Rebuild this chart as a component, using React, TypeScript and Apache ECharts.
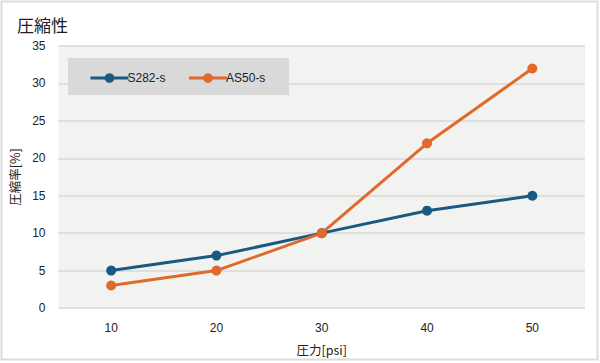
import React, { useEffect, useRef } from "react";
import * as echarts from "echarts";

const categories = ["10", "20", "30", "40", "50"];
const s282 = [5, 7, 10, 13, 15];
const as50 = [3, 5, 10, 22, 32];
const seriesNames = ["S282-s", "AS50-s"];

export default function App() {
  const ref = useRef<HTMLDivElement>(null);
  useEffect(() => {
    document.body.style.margin = "0";
    const chart = echarts.init(ref.current!, null, { renderer: "svg" });
    const font = "'Noto Sans CJK JP', 'Liberation Sans', sans-serif";
    const latin = "'Liberation Sans', Arial, sans-serif";
    chart.setOption({
      animation: false,
      backgroundColor: "#ffffff",
      textStyle: { fontFamily: font },
      title: {
        text: "圧縮性",
        left: 12,
        top: 11,
        textStyle: { fontSize: 17, fontWeight: "normal", color: "#222", fontFamily: font },
      },
      graphic: [
        {
          type: "rect",
          shape: { x: 1.5, y: 1.5, width: 596, height: 358 },
          style: { fill: "none", stroke: "#dcdcdc", lineWidth: 2 },
          silent: true,
        },
        {
          type: "rect",
          shape: { x: 68, y: 58, width: 221, height: 37 },
          style: { fill: "#d9d9d9" },
          z: 5,
          silent: true,
        },
      ],
      legend: {
        left: 84,
        top: 67,
        itemGap: 22,
        itemWidth: 38,
        itemHeight: 12,
        z: 10,
        lineStyle: { width: 3 },
        textStyle: { fontSize: 12, color: "#222", fontFamily: latin, padding: [0, 0, 0, -6] },
        data: seriesNames,
      },
      grid: { left: 55, right: 15, top: 46, bottom: 55, backgroundColor: "#f2f2f0", show: true, borderWidth: 0 },
      xAxis: {
        type: "category",
        data: categories,
        boundaryGap: true,
        name: "圧力[psi]",
        nameLocation: "middle",
        nameGap: 35,
        nameTextStyle: { fontSize: 12.5, color: "#222", fontFamily: font },
        axisLine: { show: false },
        axisTick: { show: false },
        axisLabel: { fontSize: 12, color: "#222", margin: 14, fontFamily: latin },
      },
      yAxis: {
        type: "value",
        min: 0,
        max: 35,
        interval: 5,
        name: "圧縮率[%]",
        nameLocation: "middle",
        nameGap: 38,
        nameTextStyle: { fontSize: 12.5, color: "#222", fontFamily: font },
        axisLine: { show: false },
        axisTick: { show: false },
        axisLabel: { fontSize: 12, color: "#222", margin: 13, fontFamily: latin },
        splitLine: { lineStyle: { color: "#d9d9d9", width: 1.5 } },
      },
      series: [
        {
          name: seriesNames[0],
          type: "line",
          data: s282,
          symbol: "circle",
          symbolSize: 10,
          color: "#1b5a80",
          lineStyle: { width: 3, color: "#1b5a80" },
          itemStyle: { color: "#1b5a80" },
        },
        {
          name: seriesNames[1],
          type: "line",
          data: as50,
          symbol: "circle",
          symbolSize: 10,
          color: "#e0692c",
          lineStyle: { width: 3, color: "#e0692c" },
          itemStyle: { color: "#e0692c" },
        },
      ],
    });
    return () => chart.dispose();
  }, []);
  return <div ref={ref} style={{ width: 600, height: 363 }} />;
}
